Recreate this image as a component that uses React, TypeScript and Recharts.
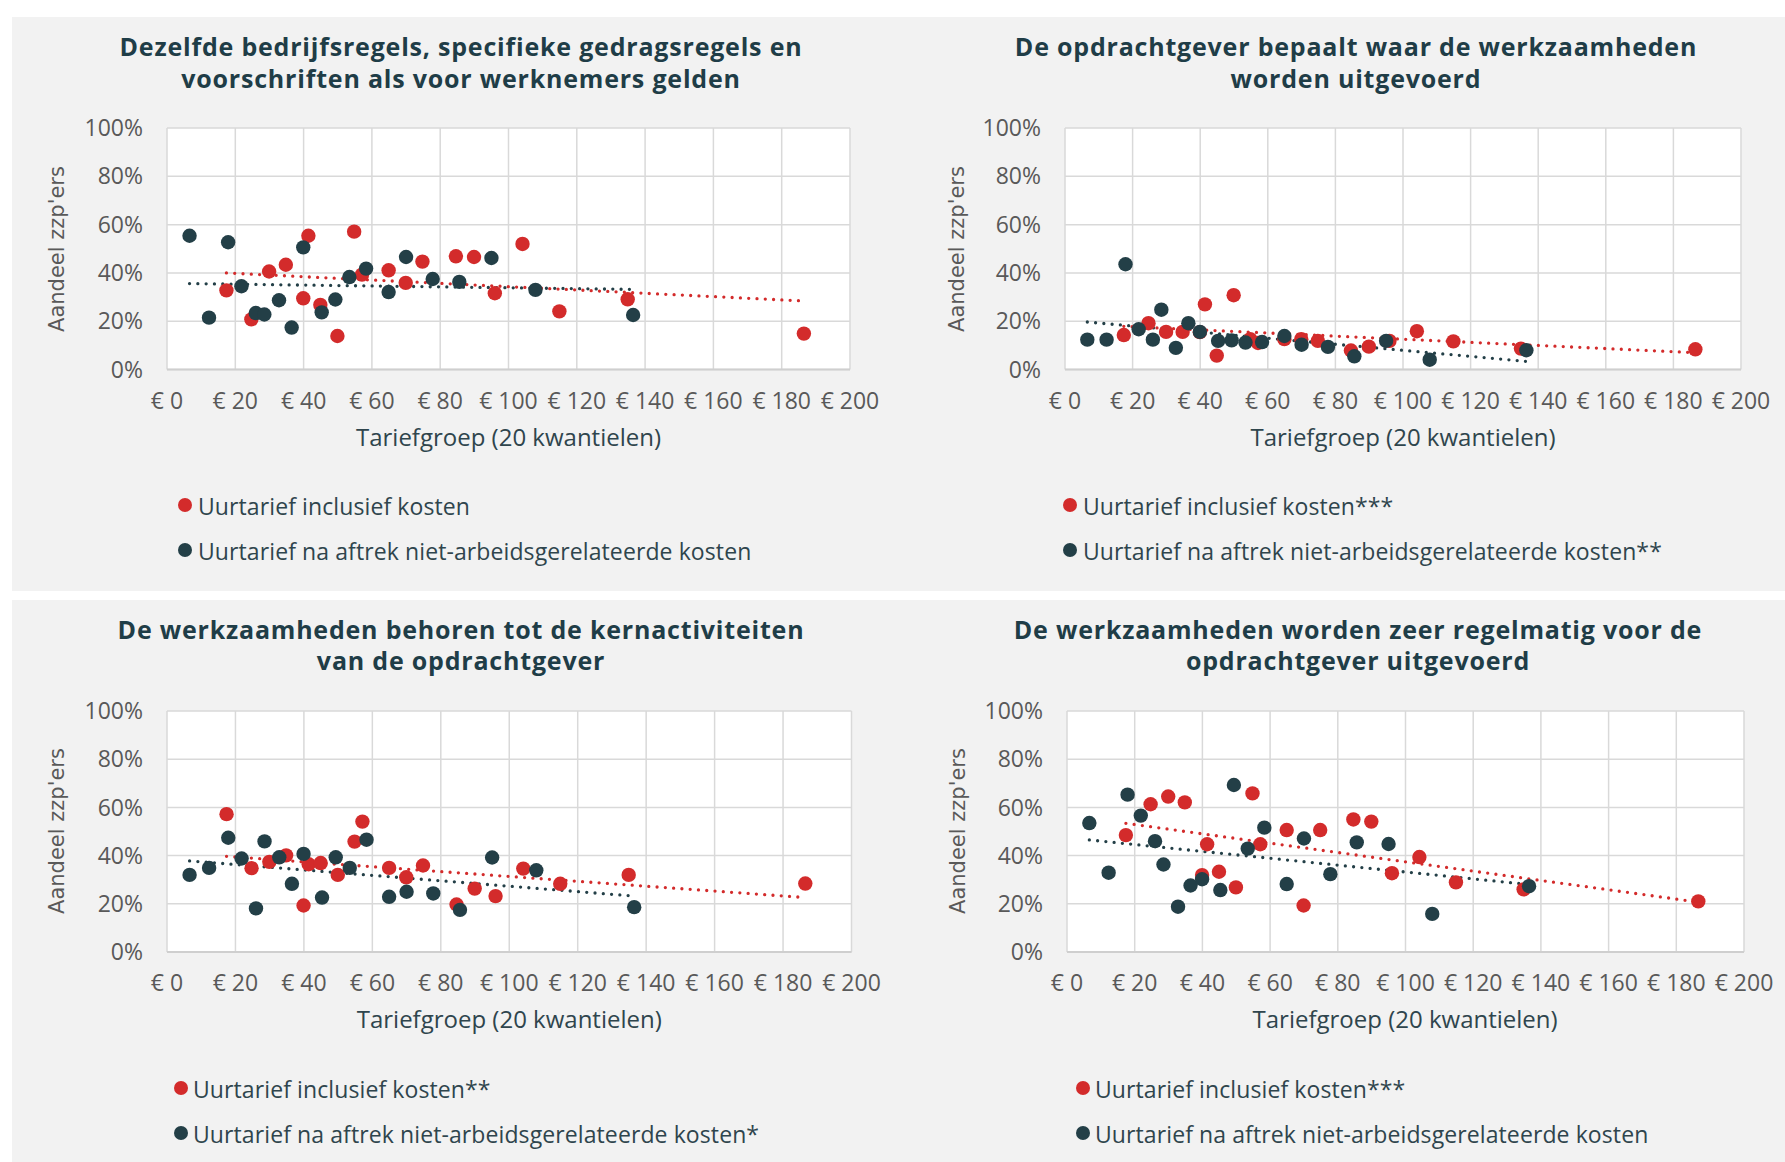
import React from "react";
import { CartesianGrid, ReferenceLine, Scatter, ScatterChart, XAxis, YAxis } from "recharts";

const RED = "#d32b2b";
const DARK = "#233f47";
const TITLE = "#1f3d47";
const TEXT = "#2f454d";
const TICK = "#595959";

// uurtarief (€) per kwantielgroep, shared by all four panels
const RATE_INCL = [17.4, 24.7, 29.9, 34.8, 39.9, 41.4, 44.9, 49.9, 54.8, 57.1, 64.9, 69.9, 74.8, 84.6, 89.9, 96.0, 104.1, 114.9, 134.9, 186.5];
const RATE_NET = [6.6, 12.3, 17.9, 21.8, 26.0, 28.5, 32.8, 36.5, 39.9, 45.3, 49.3, 53.4, 58.3, 64.9, 70.0, 77.8, 85.6, 95.0, 107.9, 136.5];

// share of zzp'ers (%) - panel 1: bedrijfsregels
const REGELS_INCL = [32.8, 20.8, 40.6, 43.4, 29.5, 55.4, 26.8, 13.9, 57.1, 39.3, 41.1, 35.9, 44.7, 46.9, 46.6, 31.6, 52.0, 24.1, 29.1, 14.9];
const REGELS_NET = [55.4, 21.5, 52.7, 34.5, 23.4, 22.8, 28.7, 17.4, 50.6, 23.7, 29.0, 38.3, 41.8, 32.1, 46.6, 37.5, 36.3, 46.2, 33.0, 22.6];
// panel 2: plaats van werk
const PLAATS_INCL = [14.3, 19.2, 15.6, 15.6, 15.5, 27.0, 5.8, 30.8, 12.6, 11.0, 12.6, 12.6, 11.9, 7.9, 9.5, 11.9, 15.9, 11.7, 8.7, 8.4];
const PLAATS_NET = [12.4, 12.4, 43.6, 16.7, 12.4, 24.8, 9.0, 19.2, 15.6, 11.9, 12.1, 11.2, 11.4, 13.9, 10.3, 9.4, 5.5, 11.9, 4.1, 8.0];
// panel 3: kernactiviteiten
const KERN_INCL = [57.2, 34.8, 37.4, 40.1, 19.3, 36.4, 36.9, 32.0, 45.8, 54.1, 34.9, 31.0, 35.9, 19.7, 26.3, 23.2, 34.6, 28.3, 32.0, 28.4];
const KERN_NET = [32.0, 34.9, 47.4, 38.8, 18.1, 45.9, 39.3, 28.3, 40.7, 22.6, 39.3, 34.9, 46.6, 22.9, 25.0, 24.3, 17.5, 39.2, 33.9, 18.6];
// panel 4: regelmatig
const REGELMATIG_INCL = [48.5, 61.3, 64.5, 62.1, 31.9, 44.7, 33.3, 26.8, 65.8, 44.7, 50.6, 19.3, 50.6, 55.0, 54.1, 32.7, 39.4, 28.9, 26.0, 21.0];
const REGELMATIG_NET = [53.5, 32.9, 65.3, 56.6, 46.0, 36.3, 18.8, 27.6, 30.2, 25.7, 69.3, 42.9, 51.6, 28.2, 47.1, 32.3, 45.5, 44.8, 15.8, 27.3];

// linear trend, value at first and last rate of the series
const TREND_REGELS = { incl: [40.0, 28.4], net: [35.6, 33.2] };
const TREND_PLAATS = { incl: [17.9, 7.0], net: [19.7, 3.4] };
const TREND_KERN = { incl: [39.7, 22.6], net: [37.8, 23.2] };
const TREND_REGELMATIG = { incl: [53.4, 20.7], net: [46.5, 28.0] };

const X_TICKS = [0, 20, 40, 60, 80, 100, 120, 140, 160, 180, 200];
const Y_TICKS = [0, 20, 40, 60, 80, 100];

const LEGEND_INCL = "Uurtarief inclusief kosten";
const LEGEND_NET = "Uurtarief na aftrek niet-arbeidsgerelateerde kosten";

const PANELS = [
  {
    title: ["Dezelfde bedrijfsregels, specifieke gedragsregels en", "voorschriften als voor werknemers gelden"],
    incl: REGELS_INCL, net: REGELS_NET, trend: TREND_REGELS,
    legend: [LEGEND_INCL, LEGEND_NET],
    plot: { x: 167, y: 127.7, w: 683, h: 241.6 },
    titleCx: 461, titleY: [45, 77], ylabelX: 60, xlabelY: 435,
    legendX: 185, legendTextX: 198, legendY: [505, 550],
  },
  {
    title: ["De opdrachtgever bepaalt waar de werkzaamheden", "worden uitgevoerd"],
    incl: PLAATS_INCL, net: PLAATS_NET, trend: TREND_PLAATS,
    legend: [LEGEND_INCL + "***", LEGEND_NET + "**"],
    plot: { x: 1065, y: 127.7, w: 676, h: 241.6 },
    titleCx: 1356, titleY: [45, 77], ylabelX: 960, xlabelY: 435,
    legendX: 1070, legendTextX: 1083, legendY: [505, 550],
  },
  {
    title: ["De werkzaamheden behoren tot de kernactiviteiten", "van de opdrachtgever"],
    incl: KERN_INCL, net: KERN_NET, trend: TREND_KERN,
    legend: [LEGEND_INCL + "**", LEGEND_NET + "*"],
    plot: { x: 167, y: 710.7, w: 684.5, h: 241 },
    titleCx: 461, titleY: [628, 659], ylabelX: 60, xlabelY: 1017,
    legendX: 181, legendTextX: 193, legendY: [1088, 1133],
  },
  {
    title: ["De werkzaamheden worden zeer regelmatig voor de", "opdrachtgever uitgevoerd"],
    incl: REGELMATIG_INCL, net: REGELMATIG_NET, trend: TREND_REGELMATIG,
    legend: [LEGEND_INCL + "***", LEGEND_NET],
    plot: { x: 1066.6, y: 710.7, w: 677, h: 241 },
    titleCx: 1358, titleY: [628, 659], ylabelX: 961, xlabelY: 1017,
    legendX: 1083, legendTextX: 1095, legendY: [1088, 1133],
  },
];

const FONT = "'Open Sans', sans-serif";

const dot = (color: string) => (p: any) => <circle cx={p.cx} cy={p.cy} r={7.2} fill={color} />;

function centered(cx: number, cy: number, h: number) {
  return {
    position: "absolute" as const,
    left: cx - 500,
    width: 1000,
    top: cy - h / 2,
    height: h,
    lineHeight: `${h}px`,
    textAlign: "center" as const,
    whiteSpace: "nowrap" as const,
  };
}

function Panel({ cfg }: { cfg: (typeof PANELS)[number] }) {
  const { plot } = cfg;
  const yAxisW = 140;
  const padTop = 20;
  const padRight = 40;
  const xAxisH = 60;

  const inclData = RATE_INCL.map((x, i) => ({ x, y: cfg.incl[i] }));
  const netData = RATE_NET.map((x, i) => ({ x, y: cfg.net[i] }));
  const inclSeg = [
    { x: RATE_INCL[0], y: cfg.trend.incl[0] },
    { x: RATE_INCL[RATE_INCL.length - 1], y: cfg.trend.incl[1] },
  ];
  const netSeg = [
    { x: RATE_NET[0], y: cfg.trend.net[0] },
    { x: RATE_NET[RATE_NET.length - 1], y: cfg.trend.net[1] },
  ];
  const tick = { fill: TICK, fontSize: 23, fontFamily: FONT };

  return (
    <>
      {cfg.title.map((line, i) => (
        <div
          key={i}
          style={{
            ...centered(cfg.titleCx, cfg.titleY[i], 32),
            font: `700 25px ${FONT}`,
            letterSpacing: "0.8px",
            color: TITLE,
          }}
        >
          {line}
        </div>
      ))}

      <div style={{ position: "absolute", left: plot.x - yAxisW, top: plot.y - padTop }}>
        <ScatterChart
          width={yAxisW + plot.w + padRight}
          height={padTop + plot.h + xAxisH}
          margin={{ top: padTop, right: padRight, bottom: 0, left: 0 }}
        >
          <CartesianGrid fill="#ffffff" stroke="#d9d9d9" strokeWidth={1.5} />
          <XAxis
            type="number"
            dataKey="x"
            domain={[0, 200]}
            ticks={X_TICKS}
            interval={0}
            height={xAxisH}
            tick={tick}
            tickLine={false}
            tickMargin={17}
            axisLine={{ stroke: "#cfcfcf", strokeWidth: 2 }}
            tickFormatter={(v) => `€ ${v}`}
          />
          <YAxis
            type="number"
            dataKey="y"
            domain={[0, 100]}
            ticks={Y_TICKS}
            interval={0}
            width={yAxisW}
            tick={tick}
            tickLine={false}
            tickMargin={18}
            axisLine={false}
            tickFormatter={(v) => `${v}%`}
          />
          <Scatter data={inclData} fill={RED} shape={dot(RED)} isAnimationActive={false} />
          <Scatter data={netData} fill={DARK} shape={dot(DARK)} isAnimationActive={false} />
          <ReferenceLine
            segment={inclSeg}
            stroke={RED}
            strokeWidth={3.3}
            strokeDasharray="0 8.3"
            strokeLinecap="round"
            ifOverflow="visible"
          />
          <ReferenceLine
            segment={netSeg}
            stroke={DARK}
            strokeWidth={3.3}
            strokeDasharray="0 8.3"
            strokeLinecap="round"
            ifOverflow="visible"
          />
        </ScatterChart>
      </div>

      {/* y-axis title, rotated */}
      <div
        style={{
          ...centered(cfg.ylabelX, plot.y + plot.h / 2, 30),
          transform: "rotate(-90deg)",
          font: "21px 'DejaVu Sans', sans-serif",
          color: TICK,
        }}
      >
        Aandeel zzp'ers
      </div>

      <div style={{ ...centered(plot.x + plot.w / 2, cfg.xlabelY, 30), font: `24px ${FONT}`, color: TEXT }}>
        Tariefgroep (20 kwantielen)
      </div>

      {cfg.legend.map((label, i) => (
        <React.Fragment key={label}>
          <div
            style={{
              position: "absolute",
              left: cfg.legendX - 7,
              top: cfg.legendY[i] - 7,
              width: 14,
              height: 14,
              borderRadius: 7,
              background: i === 0 ? RED : DARK,
            }}
          />
          <div
            style={{
              position: "absolute",
              left: cfg.legendTextX,
              top: cfg.legendY[i] - 15,
              height: 30,
              lineHeight: "30px",
              whiteSpace: "nowrap",
              font: `23px ${FONT}`,
              letterSpacing: "0.1px",
              color: TEXT,
            }}
          >
            {label}
          </div>
        </React.Fragment>
      ))}
    </>
  );
}

export default function App() {
  return (
    <div style={{ position: "absolute", left: 0, top: 0, width: 1785, height: 1162, background: "#fff", overflow: "hidden" }}>
      <div style={{ position: "absolute", left: 12, top: 17, width: 1773, height: 574, background: "#f2f2f2" }} />
      <div style={{ position: "absolute", left: 12, top: 600, width: 1773, height: 562, background: "#f2f2f2" }} />
      {PANELS.map((cfg, i) => (
        <Panel key={i} cfg={cfg} />
      ))}
    </div>
  );
}
